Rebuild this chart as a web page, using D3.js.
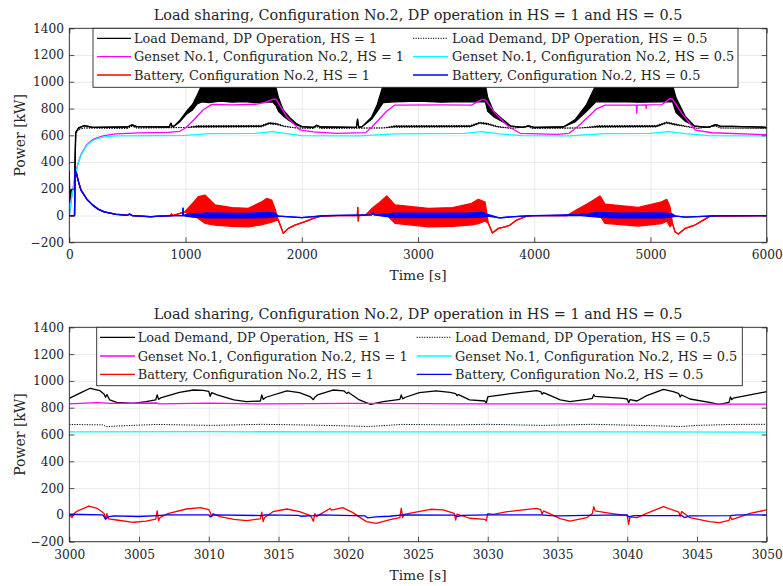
<!DOCTYPE html>
<html>
<head>
<meta charset="utf-8">
<script src="https://cdn.jsdelivr.net/npm/d3@7"></script>
<style>
  body { margin: 0; background: #fff; }
  svg { display: block; }
</style>
</head>
<body>
<svg id="chart" width="783" height="586"></svg>
<script>
// data ---------------------------------------------------------------

var chartTitle = "Load sharing, Configuration No.2, DP operation in HS = 1 and HS = 0.5";
var legendNames = [
	"Load Demand, DP Operation, HS = 1", "Load Demand, DP Operation, HS = 0.5",
	"Genset No.1, Configuration No.2, HS = 1", "Genset No.1, Configuration No.2, HS = 0.5",
	"Battery, Configuration No.2, HS = 1", "Battery, Configuration No.2, HS = 0.5"
];
var yTicks = [-200, 0, 200, 400, 600, 800, 1000, 1200, 1400];
var xTicksTop = [0, 1000, 2000, 3000, 4000, 5000, 6000];
var xTicksBottom = [3000, 3005, 3010, 3015, 3020, 3025, 3030, 3035, 3040, 3045, 3050];

// top panel, 0..6000 s (low / high = envelope of the fast oscillation)
var loadHs1Time = [0, 3, 15, 45, 55, 80, 130, 200, 500, 540,
	580, 860, 875, 885, 900, 950, 1010, 1060, 1100, 1140,
	1200, 1300, 1400, 1500, 1600, 1700, 1750, 1780, 1800, 1840,
	1900, 1950, 2000, 2100, 2130, 2160, 2470, 2480, 2490, 2520,
	2600, 2650, 2700, 2800, 3000, 3200, 3400, 3580, 3600, 3650,
	3720, 3800, 3900, 3950, 4000, 4250, 4350, 4450, 4530, 4700,
	4900, 5100, 5190, 5220, 5300, 5380, 5500, 5560, 5600, 6000];
var loadHs1Low = [330, 100, 190, 200, 620, 655, 672, 660, 662, 678,
	665, 662, 690, 665, 668, 700, 760, 790, 835, 850,
	845, 855, 848, 852, 845, 850, 848, 820, 780, 745,
	705, 680, 665, 660, 675, 662, 660, 720, 660, 665,
	720, 780, 845, 850, 855, 848, 852, 850, 780, 740,
	705, 668, 660, 670, 660, 662, 700, 780, 850, 852,
	848, 850, 850, 770, 705, 668, 660, 680, 668, 660];
var loadHs1High = [330, 100, 190, 200, 620, 655, 672, 660, 662, 678,
	665, 662, 690, 665, 668, 710, 780, 830, 900, 975,
	985, 980, 985, 980, 985, 980, 975, 950, 880, 790,
	730, 690, 665, 660, 675, 662, 660, 720, 660, 665,
	735, 830, 975, 985, 980, 985, 980, 975, 880, 780,
	725, 668, 660, 670, 660, 662, 715, 830, 975, 985,
	980, 985, 975, 880, 740, 668, 660, 680, 668, 660];

var loadHs05Time = [0, 3, 15, 45, 55, 80, 130, 500, 540, 580,
	1000, 1100, 1650, 1720, 1780, 1850, 1950, 2100, 2130, 2160,
	2700, 2800, 3450, 3530, 3600, 3680, 3800, 3950, 3980, 4400,
	4550, 5050, 5140, 5220, 5300, 5400, 5560, 5600, 6000];
var loadHs05Low = [330, 100, 190, 200, 610, 645, 655, 652, 668, 655,
	658, 660, 662, 685, 680, 665, 655, 652, 665, 652,
	655, 660, 662, 688, 680, 662, 652, 665, 652, 655,
	660, 662, 690, 675, 665, 652, 670, 655, 652];
var loadHs05High = [330, 100, 190, 200, 610, 645, 655, 652, 668, 655,
	658, 672, 674, 695, 690, 670, 655, 652, 665, 652,
	655, 672, 674, 698, 690, 668, 652, 665, 652, 655,
	672, 674, 700, 685, 670, 652, 670, 655, 652];

var gensetHs1Time = [0, 20, 50, 75, 100, 150, 200, 250, 300, 400,
	600, 850, 950, 1000, 1070, 1150, 1225, 1400, 1600, 1680,
	1755, 1780, 1870, 1985, 2100, 2300, 2550, 2600, 2660, 2730,
	2800, 3200, 3460, 3550, 3580, 3665, 3780, 3880, 4200, 4300,
	4380, 4465, 4540, 4610, 4878, 4882, 4886, 4960, 4963, 4966,
	5100, 5170, 5190, 5270, 5385, 5530, 6000];
var gensetHs1 = [0, 140, 300, 390, 455, 530, 567, 585, 597, 610,
	618, 622, 630, 655, 714, 789, 831, 828, 832, 845,
	870, 868, 739, 640, 625, 615, 620, 660, 714, 780,
	826, 828, 826, 869, 865, 764, 664, 615, 607, 615,
	670, 739, 800, 826, 826, 766, 826, 828, 800, 828,
	830, 876, 870, 764, 639, 619, 605];

var gensetHs05Time = [0, 20, 50, 75, 100, 150, 200, 250, 300, 400,
	800, 1000, 1200, 1600, 1750, 1850, 2000, 2500, 2800, 3400,
	3550, 3700, 3900, 4300, 4600, 5000, 5150, 5300, 5500, 6000];
var gensetHs05 = [0, 135, 295, 385, 450, 525, 560, 578, 588, 595,
	597, 600, 612, 615, 628, 615, 598, 596, 610, 615,
	628, 610, 598, 596, 612, 615, 628, 612, 598, 596];

var batteryHs1Time = [0, 45, 50, 60, 80, 100, 150, 200, 250, 300,
	400, 500, 520, 540, 700, 760, 870, 880, 890, 995,
	1060, 1110, 1167, 1254, 1400, 1540, 1650, 1700, 1741, 1770,
	1798, 1841, 1884, 1942, 2028, 2099, 2157, 2300, 2478, 2482,
	2486, 2490, 2550, 2600, 2659, 2731, 2802, 3089, 3300, 3462,
	3519, 3577, 3605, 3640, 3691, 3749, 3792, 3849, 3935, 4000,
	4280, 4380, 4465, 4566, 4609, 4895, 5097, 5140, 5168, 5190,
	5211, 5240, 5297, 5383, 5455, 5512, 5700, 6000];
var batteryHs1Low = [0, 0, 330, 320, 250, 195, 125, 80, 48, 28,
	10, 3, 12, 0, -10, -5, 0, 12, 0, 28,
	0, -21, -58, -71, -80, -84, -70, -58, -50, -40,
	-34, -133, -96, -71, -46, -21, -6, 0, 0, 60,
	-40, 0, 4, 10, 16, 4, -58, -84, -80, -70,
	-60, -40, -58, -130, -96, -84, -71, -34, -4, 0,
	0, 10, 16, 0, -58, -78, -60, -40, -84, -60,
	-121, -138, -96, -71, -34, -4, -5, 0];
var batteryHs1High = [0, 0, 330, 320, 250, 195, 125, 80, 48, 28,
	10, 3, 12, 0, -10, -5, 0, 12, 0, 28,
	90, 141, 153, 79, 60, 54, 100, 129, 116, 50,
	-34, -133, -96, -71, -46, -21, -6, 0, 0, 60,
	-40, 0, 4, 50, 91, 146, 79, 54, 60, 91,
	121, 100, -58, -130, -96, -84, -71, -34, -4, 0,
	0, 50, 91, 146, 86, 61, 103, 121, 66, -60,
	-121, -138, -96, -71, -34, -4, -5, 0];

var batteryHs05Time = [0, 45, 50, 60, 80, 100, 150, 200, 250, 300,
	400, 500, 520, 540, 700, 900, 975, 978, 981, 1000,
	1065, 1200, 1500, 1700, 1770, 1800, 1900, 2000, 2100, 2200,
	2600, 2615, 2625, 2700, 2800, 3400, 3550, 3600, 3700, 3800,
	3900, 4000, 4400, 4550, 4700, 5100, 5180, 5220, 5300, 5500,
	5600, 6000];
var batteryHs05Low = [0, 0, 335, 320, 250, 190, 122, 78, 46, 27,
	9, 2, 10, 0, -8, 0, 0, 55, 0, -5,
	-12, -18, -18, -15, -10, -5, -10, -15, -8, 0,
	5, 22, 5, -5, -15, -16, -12, -5, -18, -10,
	-5, 0, 0, -12, -18, -18, -12, -5, -12, -5,
	0, 0];
var batteryHs05High = [0, 0, 335, 320, 250, 190, 122, 78, 46, 27,
	9, 2, 10, 0, -8, 0, 0, 55, 0, 8,
	15, 20, 16, 24, 18, -5, -10, -15, -8, 0,
	5, 22, 5, 10, 18, 18, 24, 8, -18, -10,
	-5, 0, 8, 24, 18, 20, 15, -5, -12, -5,
	0, 0];

// bottom panel, 3000..3050 s
var zoomLoadHs1Time = [3000, 3000.8, 3001.5, 3002.2, 3002.5, 3002.6, 3002.7, 3002.9, 3003.4, 3004.6,
	3005.5, 3006.2, 3006.3, 3006.4, 3006.6, 3007.9, 3008.9, 3009.6, 3010.0, 3010.1,
	3010.2, 3010.6, 3011.8, 3012.7, 3013.7, 3013.8, 3013.9, 3014.1, 3015.6, 3016.5,
	3017.3, 3017.5, 3017.6, 3017.8, 3018.9, 3019.7, 3019.9, 3020.0, 3020.8, 3021.6,
	3022.5, 3023.7, 3023.8, 3023.9, 3024.1, 3025.1, 3026.3, 3027.3, 3027.7, 3027.8,
	3027.9, 3028.7, 3029.8, 3029.9, 3030.0, 3030.2, 3031.4, 3033.5, 3033.8, 3033.9,
	3034.0, 3035.2, 3035.9, 3037.1, 3037.5, 3037.6, 3037.7, 3039.7, 3040.0, 3040.1,
	3040.2, 3040.7, 3041.4, 3042.6, 3043.3, 3043.7, 3043.8, 3043.9, 3044.5, 3045.9,
	3046.6, 3047.3, 3047.4, 3047.5, 3047.6, 3048.8, 3050];
var zoomLoadHs1 = [870, 910, 945, 927, 900, 878, 898, 858, 840, 833,
	845, 858, 895, 862, 876, 915, 932, 930, 922, 885,
	912, 895, 858, 845, 850, 895, 862, 878, 925, 912,
	880, 860, 878, 895, 932, 925, 905, 915, 858, 825,
	845, 862, 895, 866, 878, 912, 925, 915, 905, 890,
	898, 858, 850, 835, 880, 885, 902, 927, 920, 900,
	912, 858, 845, 862, 870, 897, 885, 870, 865, 838,
	860, 850, 890, 937, 920, 905, 880, 895, 865, 840,
	825, 840, 880, 860, 872, 895, 920];

var zoomLoadHs05Time = [3000, 3002.4, 3002.7, 3003.2, 3005, 3006.3, 3010.2, 3013.8, 3017.6, 3021.5,
	3022.5, 3023.8, 3027.7, 3030, 3033.9, 3037.5, 3040.1, 3043.9, 3045, 3047.5, 3050];
var zoomLoadHs05 = [675, 672, 658, 662, 670, 675, 668, 676, 670, 660,
	666, 675, 672, 676, 668, 676, 670, 660, 668, 675, 676];

var zoomGensetHs1Time = [3000, 3002, 3003, 3006.3, 3006.4, 3010, 3014, 3020, 3025, 3030, 3035, 3040, 3045, 3050];
var zoomGensetHs1 = [828, 838, 832, 835, 828, 834, 828, 832, 830, 828, 829, 826, 827, 826];

var zoomGensetHs05Time = [3000, 3010, 3020, 3030, 3040, 3050];
var zoomGensetHs05 = [620, 621, 619, 620, 619, 618];

var zoomBatteryHs1Time = [3000, 3000.2, 3000.3, 3000.5, 3001.4, 3002.0, 3002.5, 3002.6, 3002.7, 3002.8,
	3003.4, 3004.6, 3005.5, 3006.2, 3006.3, 3006.4, 3006.5, 3007.0, 3008.4, 3009.4,
	3010.0, 3010.1, 3010.2, 3010.3, 3010.8, 3011.8, 3012.7, 3013.7, 3013.8, 3013.9,
	3014.0, 3014.6, 3015.6, 3016.5, 3017.3, 3017.5, 3017.6, 3017.7, 3018.7, 3018.8,
	3019.6, 3020.3, 3021.3, 3022.0, 3023.0, 3023.7, 3023.8, 3023.9, 3024.0, 3025.9,
	3026.8, 3027.6, 3027.7, 3027.8, 3028.7, 3029.8, 3029.9, 3030.0, 3030.4, 3031.4,
	3033.5, 3033.8, 3033.9, 3034.0, 3035.2, 3035.9, 3037.1, 3037.5, 3037.6, 3037.7,
	3038.8, 3040.0, 3040.1, 3040.2, 3040.7, 3041.4, 3042.6, 3043.7, 3043.8, 3043.9,
	3044.5, 3045.9, 3046.6, 3047.3, 3047.4, 3047.5, 3048.8, 3050];
var zoomBatteryHs1 = [0, -20, 5, 24, 66, 49, 10, -36, 10, -30,
	-38, -55, -46, -31, 30, -45, -20, 7, 44, 54,
	40, 20, -13, 10, -13, -33, -43, -30, 20, -50,
	-20, 24, 44, 24, -5, -48, 10, -13, 48, 35,
	54, 19, -50, -63, -35, -21, 50, -20, 4, 42,
	37, 12, -38, 5, -25, -33, -45, 10, 4, 24,
	49, 40, 4, 30, -28, -46, -21, 10, 62, 30,
	12, -5, -70, -15, -21, 12, 62, 20, -10, 25,
	-21, -50, -57, -40, -10, -35, 12, 37];

var zoomBatteryHs05Time = [3000, 3002.4, 3002.6, 3002.8, 3003.2, 3005.0, 3006.3, 3007.0, 3010.0, 3010.1,
	3010.3, 3013.8, 3014.0, 3016.4, 3016.6, 3017.5, 3018.0, 3021.2, 3021.4, 3022.0,
	3023.0, 3023.9, 3027.6, 3027.8, 3028.2, 3030.0, 3033.8, 3034.5, 3035.2, 3037.0,
	3040.0, 3040.1, 3040.5, 3043.9, 3044.1, 3044.5, 3047.4, 3048.0, 3050];
var zoomBatteryHs05 = [5, 0, -30, -15, -8, -12, -5, 0, 0, -15,
	0, -5, 0, -3, -10, -5, 0, -8, -22, -15,
	-10, 0, -2, -12, -3, 0, 0, -5, -8, -3,
	0, -15, -5, -5, -20, -8, -5, 0, 0];

// styles -------------------------------------------------------------

var seriesColor = ["#000000", "#000000", "#ff00ff", "#00ffff", "#ff0000", "#0000ff"];
var seriesDash = [null, "1.2,1.3", null, null, null, null];
var serif = "'DejaVu Serif', 'Liberation Serif', serif";
var ink = "#262626";

var svg = d3.select("#chart");

// graph---------------------------------------------------------------

function styleAxis(sel, size) {
	sel.attr("font-family", serif).attr("font-size", size);
	sel.select(".domain").remove();
	sel.selectAll("line").attr("stroke-width", 0.8);
}

function drawPanel(cfg) {
	const p = cfg.box;
	const x = d3.scaleLinear().domain(cfg.xDomain).range([p.left, p.right]);
	const y = d3.scaleLinear().domain([-200, 1400]).range([p.bottom, p.top]);
	const w = p.right - p.left, h = p.bottom - p.top;

	var g = svg.append("g");

	g.append("clipPath").attr("id", "clip" + cfg.id)
		.append("rect")
		.attr("x", p.left).attr("y", p.top)
		.attr("width", w).attr("height", h);

	// grid
	var grid = g.append("g").attr("color", "#e4e4e4");
	grid.append("g")
		.attr("transform", `translate(0,${p.bottom})`)
		.call(d3.axisBottom(x).tickValues(cfg.xTicks).tickSize(-h).tickFormat(""))
		.call(styleAxis, 10);
	grid.append("g")
		.attr("transform", `translate(${p.left},0)`)
		.call(d3.axisLeft(y).tickValues(yTicks).tickSize(-w).tickFormat(""))
		.call(styleAxis, 10);

	// series
	var plot = g.append("g").attr("clip-path", `url(#clip${cfg.id})`);
	cfg.series.forEach(function (s, i) {
		var pts = s.t.map((t, k) => ({ t: t, lo: s.lo[k], hi: s.hi ? s.hi[k] : s.lo[k] }));
		if (s.hi) {
			plot.append("path").datum(pts)
				.attr("d", d3.area().x(d => x(d.t)).y0(d => y(d.lo)).y1(d => y(d.hi)))
				.attr("fill", seriesColor[i]);
		}
		var edges = s.hi ? ["lo", "hi"] : ["lo"];
		edges.forEach(function (key) {
			plot.append("path").datum(pts)
				.attr("d", d3.line().x(d => x(d.t)).y(d => y(d[key])))
				.attr("fill", "none")
				.attr("stroke", seriesColor[i])
				.attr("stroke-width", seriesDash[i] ? 1 : 1.3)
				.attr("stroke-dasharray", seriesDash[i])
				.attr("stroke-linejoin", "round");
		});
	});

	// axes with inside ticks
	var axes = g.append("g").attr("color", ink);
	axes.append("g").attr("transform", `translate(0,${p.bottom})`)
		.call(d3.axisBottom(x).tickValues(cfg.xTicks).tickSize(-5).tickPadding(8.5).tickFormat(d3.format("d")))
		.call(styleAxis, 12.2);
	axes.append("g").attr("transform", `translate(0,${p.top})`)
		.call(d3.axisTop(x).tickValues(cfg.xTicks).tickSize(-5).tickFormat(""))
		.call(styleAxis, 12.2);
	axes.append("g").attr("transform", `translate(${p.left},0)`)
		.call(d3.axisLeft(y).tickValues(yTicks).tickSize(-5).tickPadding(5.3).tickFormat(d3.format("d")))
		.call(styleAxis, 12.2);
	axes.append("g").attr("transform", `translate(${p.right},0)`)
		.call(d3.axisRight(y).tickValues(yTicks).tickSize(-5).tickFormat(""))
		.call(styleAxis, 12.2);

	g.append("rect")
		.attr("x", p.left).attr("y", p.top)
		.attr("width", w).attr("height", h)
		.attr("fill", "none").attr("stroke", ink).attr("stroke-width", 0.9);

	// texts
	g.append("text")
		.attr("x", (p.left + p.right) / 2).attr("y", p.top - 8)
		.attr("text-anchor", "middle")
		.attr("font-family", serif).attr("font-size", 14.4).attr("fill", ink)
		.text(chartTitle);
	g.append("text")
		.attr("x", (p.left + p.right) / 2).attr("y", p.bottom + 38)
		.attr("text-anchor", "middle")
		.attr("font-family", serif).attr("font-size", 13.8).attr("fill", ink)
		.text("Time [s]");
	g.append("text")
		.attr("transform", `translate(25,${(p.top + p.bottom) / 2}) rotate(-90)`)
		.attr("text-anchor", "middle")
		.attr("font-family", serif).attr("font-size", 14).attr("fill", ink)
		.text("Power [kW]");

	// legend
	var lg = cfg.legend;
	var leg = g.append("g");
	leg.append("rect")
		.attr("x", lg.left).attr("y", lg.top)
		.attr("width", lg.right - lg.left).attr("height", lg.bottom - lg.top)
		.attr("fill", "#fff").attr("stroke", ink).attr("stroke-width", 0.9);
	legendNames.forEach(function (name, i) {
		var col = i % 2, row = Math.floor(i / 2);
		var yy = lg.rows[row];
		leg.append("line")
			.attr("x1", lg.lineX[col][0]).attr("x2", lg.lineX[col][1])
			.attr("y1", yy).attr("y2", yy)
			.attr("stroke", seriesColor[i])
			.attr("stroke-width", seriesDash[i] ? 1 : 1.3)
			.attr("stroke-dasharray", seriesDash[i]);
		leg.append("text")
			.attr("x", lg.textX[col]).attr("y", yy + 4.6)
			.attr("font-family", serif).attr("font-size", 12.9).attr("fill", ink)
			.text(name);
	});
}

// main block----------------------------------------------------------

drawPanel({
	id: 1,
	box: { left: 69.3, right: 766.7, top: 28.3, bottom: 242.3 },
	xDomain: [0, 6000],
	xTicks: xTicksTop,
	series: [
		{ t: loadHs1Time, lo: loadHs1Low, hi: loadHs1High },
		{ t: loadHs05Time, lo: loadHs05Low, hi: loadHs05High },
		{ t: gensetHs1Time, lo: gensetHs1 },
		{ t: gensetHs05Time, lo: gensetHs05 },
		{ t: batteryHs1Time, lo: batteryHs1Low, hi: batteryHs1High },
		{ t: batteryHs05Time, lo: batteryHs05Low, hi: batteryHs05High }
	],
	legend: {
		left: 93, right: 738, top: 28.3, bottom: 87.3,
		rows: [38.3, 56.7, 75],
		lineX: [[97, 131], [413, 448]],
		textX: [134, 452]
	}
});

drawPanel({
	id: 2,
	box: { left: 69.3, right: 766.7, top: 327.3, bottom: 541.7 },
	xDomain: [3000, 3050],
	xTicks: xTicksBottom,
	series: [
		{ t: zoomLoadHs1Time, lo: zoomLoadHs1 },
		{ t: zoomLoadHs05Time, lo: zoomLoadHs05 },
		{ t: zoomGensetHs1Time, lo: zoomGensetHs1 },
		{ t: zoomGensetHs05Time, lo: zoomGensetHs05 },
		{ t: zoomBatteryHs1Time, lo: zoomBatteryHs1 },
		{ t: zoomBatteryHs05Time, lo: zoomBatteryHs05 }
	],
	legend: {
		left: 96.7, right: 742.3, top: 327.3, bottom: 385.7,
		rows: [337.3, 356, 374.3],
		lineX: [[100, 135], [416.7, 451.7]],
		textX: [137.7, 455]
	}
});
</script>
</body>
</html>
